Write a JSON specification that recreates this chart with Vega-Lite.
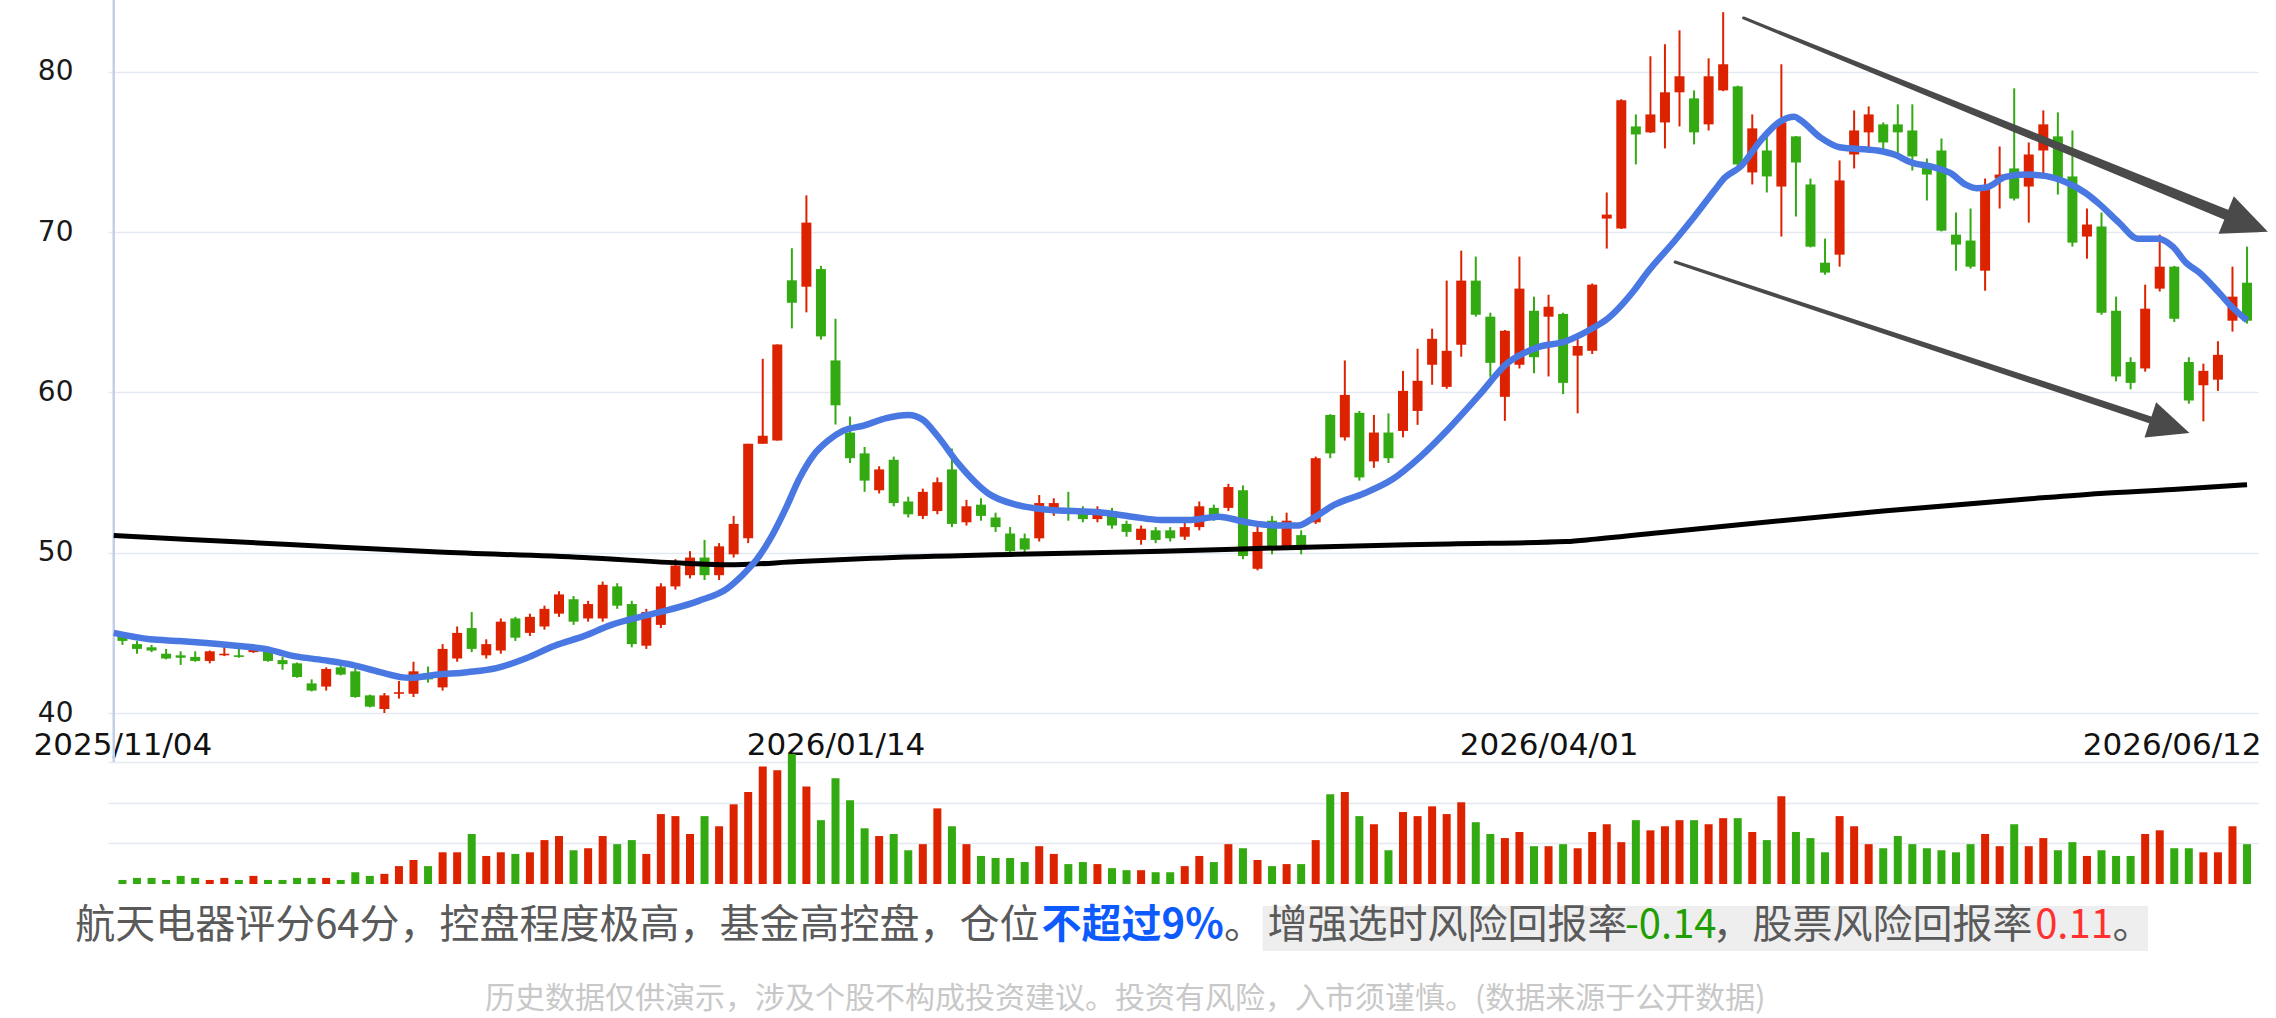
{
"$schema":"https://vega.github.io/schema/vega-lite/v6.json",
"width":2150,"height":1018,
"padding":{"left":108,"top":0,"right":18,"bottom":0},
"autosize":{"type":"none"},
"background":"#ffffff",
"config":{"view":{"stroke":null},"font":"DejaVu Sans"},
"datasets":{
"k":[
{"i":0,"o":44.8,"h":44.85,"l":44.25,"c":44.5,"v":0.10},
{"i":1,"o":44.3,"h":44.5,"l":43.7,"c":44.0,"v":0.15},
{"i":2,"o":44.1,"h":44.25,"l":43.8,"c":43.9,"v":0.15},
{"i":3,"o":43.7,"h":44.0,"l":43.35,"c":43.4,"v":0.10},
{"i":4,"o":43.6,"h":43.85,"l":43.0,"c":43.45,"v":0.20},
{"i":5,"o":43.5,"h":43.85,"l":43.2,"c":43.25,"v":0.15},
{"i":6,"o":43.25,"h":43.9,"l":43.1,"c":43.85,"v":0.10},
{"i":7,"o":43.6,"h":44.35,"l":43.55,"c":43.7,"v":0.15},
{"i":8,"o":43.6,"h":44.0,"l":43.45,"c":43.5,"v":0.10},
{"i":9,"o":43.8,"h":44.2,"l":43.75,"c":44.05,"v":0.20},
{"i":10,"o":44.0,"h":44.05,"l":43.2,"c":43.25,"v":0.10},
{"i":11,"o":43.3,"h":43.5,"l":42.7,"c":43.05,"v":0.10},
{"i":12,"o":43.1,"h":43.15,"l":42.2,"c":42.25,"v":0.15},
{"i":13,"o":41.85,"h":42.1,"l":41.35,"c":41.4,"v":0.15},
{"i":14,"o":41.65,"h":42.85,"l":41.4,"c":42.75,"v":0.15},
{"i":15,"o":42.85,"h":43.0,"l":42.35,"c":42.4,"v":0.10},
{"i":16,"o":42.6,"h":42.8,"l":40.95,"c":41.0,"v":0.29},
{"i":17,"o":41.1,"h":41.15,"l":40.35,"c":40.4,"v":0.20},
{"i":18,"o":40.25,"h":41.25,"l":40.0,"c":41.1,"v":0.25},
{"i":19,"o":41.2,"h":42.0,"l":40.9,"c":41.3,"v":0.44},
{"i":20,"o":41.2,"h":43.2,"l":41.0,"c":42.6,"v":0.59},
{"i":21,"o":42.5,"h":42.9,"l":41.9,"c":42.1,"v":0.44},
{"i":22,"o":41.6,"h":44.3,"l":41.4,"c":44.0,"v":0.78},
{"i":23,"o":43.4,"h":45.4,"l":43.2,"c":45.0,"v":0.78},
{"i":24,"o":45.3,"h":46.3,"l":43.8,"c":44.0,"v":1.23},
{"i":25,"o":43.6,"h":44.6,"l":43.4,"c":44.3,"v":0.69},
{"i":26,"o":43.9,"h":45.9,"l":43.7,"c":45.7,"v":0.78},
{"i":27,"o":45.9,"h":46.0,"l":44.5,"c":44.7,"v":0.74},
{"i":28,"o":45.0,"h":46.2,"l":44.8,"c":46.0,"v":0.78},
{"i":29,"o":45.4,"h":46.7,"l":45.2,"c":46.5,"v":1.08},
{"i":30,"o":46.2,"h":47.6,"l":46.0,"c":47.4,"v":1.18},
{"i":31,"o":47.1,"h":47.3,"l":45.5,"c":45.7,"v":0.83},
{"i":32,"o":45.9,"h":47.0,"l":45.7,"c":46.8,"v":0.88},
{"i":33,"o":45.9,"h":48.2,"l":45.7,"c":48.0,"v":1.18},
{"i":34,"o":47.9,"h":48.1,"l":46.5,"c":46.7,"v":0.98},
{"i":35,"o":46.8,"h":47.0,"l":44.1,"c":44.3,"v":1.08},
{"i":36,"o":44.2,"h":46.5,"l":44.0,"c":46.3,"v":0.74},
{"i":37,"o":45.5,"h":48.1,"l":45.3,"c":47.9,"v":1.72},
{"i":38,"o":47.9,"h":49.6,"l":47.7,"c":49.2,"v":1.67},
{"i":39,"o":48.6,"h":50.1,"l":48.4,"c":49.7,"v":1.23},
{"i":40,"o":49.7,"h":50.8,"l":48.3,"c":48.6,"v":1.67},
{"i":41,"o":48.6,"h":50.6,"l":48.3,"c":50.4,"v":1.42},
{"i":42,"o":49.9,"h":52.3,"l":49.7,"c":51.8,"v":1.96},
{"i":43,"o":50.9,"h":56.8,"l":50.6,"c":56.8,"v":2.26},
{"i":44,"o":56.8,"h":62.1,"l":56.8,"c":57.3,"v":2.89},
{"i":45,"o":57.0,"h":63.0,"l":57.0,"c":63.0,"v":2.80},
{"i":46,"o":67.0,"h":69.0,"l":64.0,"c":65.6,"v":3.20},
{"i":47,"o":66.6,"h":72.3,"l":65.0,"c":70.6,"v":2.40},
{"i":48,"o":67.7,"h":67.9,"l":63.3,"c":63.5,"v":1.57},
{"i":49,"o":62.0,"h":64.6,"l":58.0,"c":59.2,"v":2.60},
{"i":50,"o":57.5,"h":58.5,"l":55.6,"c":55.9,"v":2.06},
{"i":51,"o":56.2,"h":56.6,"l":53.8,"c":54.5,"v":1.37},
{"i":52,"o":53.9,"h":55.4,"l":53.7,"c":55.2,"v":1.18},
{"i":53,"o":55.8,"h":56.0,"l":52.9,"c":53.1,"v":1.23},
{"i":54,"o":53.2,"h":53.5,"l":52.2,"c":52.4,"v":0.83},
{"i":55,"o":52.3,"h":54.0,"l":52.1,"c":53.8,"v":0.98},
{"i":56,"o":52.6,"h":54.7,"l":52.4,"c":54.4,"v":1.86},
{"i":57,"o":55.2,"h":56.5,"l":51.6,"c":51.8,"v":1.42},
{"i":58,"o":51.9,"h":53.3,"l":51.7,"c":52.9,"v":0.98},
{"i":59,"o":53.0,"h":53.4,"l":52.0,"c":52.3,"v":0.69},
{"i":60,"o":52.2,"h":52.5,"l":51.3,"c":51.6,"v":0.64},
{"i":61,"o":51.2,"h":51.6,"l":49.9,"c":50.1,"v":0.64},
{"i":62,"o":50.9,"h":51.2,"l":50.0,"c":50.2,"v":0.54},
{"i":63,"o":50.9,"h":53.6,"l":50.7,"c":53.1,"v":0.93},
{"i":64,"o":52.5,"h":53.4,"l":52.3,"c":53.1,"v":0.74},
{"i":65,"o":52.8,"h":53.8,"l":52.0,"c":52.5,"v":0.49},
{"i":66,"o":52.6,"h":52.9,"l":51.9,"c":52.1,"v":0.54},
{"i":67,"o":52.1,"h":52.9,"l":51.9,"c":52.6,"v":0.49},
{"i":68,"o":52.6,"h":52.8,"l":51.5,"c":51.7,"v":0.39},
{"i":69,"o":51.8,"h":52.0,"l":51.0,"c":51.3,"v":0.34},
{"i":70,"o":50.8,"h":51.7,"l":50.5,"c":51.5,"v":0.34},
{"i":71,"o":51.4,"h":51.6,"l":50.6,"c":50.8,"v":0.29},
{"i":72,"o":51.4,"h":51.6,"l":50.7,"c":50.9,"v":0.29},
{"i":73,"o":51.0,"h":51.9,"l":50.8,"c":51.6,"v":0.44},
{"i":74,"o":51.6,"h":53.2,"l":51.4,"c":52.9,"v":0.69},
{"i":75,"o":52.8,"h":53.0,"l":52.0,"c":52.3,"v":0.54},
{"i":76,"o":52.8,"h":54.3,"l":52.6,"c":54.1,"v":0.98},
{"i":77,"o":53.9,"h":54.2,"l":49.6,"c":49.8,"v":0.88},
{"i":78,"o":49.0,"h":51.8,"l":48.9,"c":51.3,"v":0.59},
{"i":79,"o":52.0,"h":52.3,"l":49.9,"c":50.2,"v":0.44},
{"i":80,"o":50.4,"h":52.5,"l":50.2,"c":52.0,"v":0.49},
{"i":81,"o":51.1,"h":51.4,"l":49.9,"c":50.2,"v":0.49},
{"i":82,"o":51.9,"h":56.0,"l":51.8,"c":55.9,"v":1.08},
{"i":83,"o":58.6,"h":58.65,"l":55.9,"c":56.2,"v":2.21},
{"i":84,"o":57.2,"h":62.0,"l":57.0,"c":59.85,"v":2.26},
{"i":85,"o":58.73,"h":58.85,"l":54.5,"c":54.7,"v":1.67},
{"i":86,"o":55.7,"h":58.6,"l":55.3,"c":57.5,"v":1.47},
{"i":87,"o":57.5,"h":58.7,"l":55.6,"c":55.9,"v":0.83},
{"i":88,"o":57.6,"h":61.35,"l":57.2,"c":60.1,"v":1.77},
{"i":89,"o":58.85,"h":62.73,"l":57.98,"c":60.73,"v":1.67},
{"i":90,"o":61.73,"h":63.98,"l":60.48,"c":63.35,"v":1.91},
{"i":91,"o":60.35,"h":66.98,"l":60.23,"c":62.6,"v":1.72},
{"i":92,"o":62.98,"h":68.85,"l":62.23,"c":66.98,"v":2.01},
{"i":93,"o":66.98,"h":68.48,"l":64.73,"c":64.85,"v":1.52},
{"i":94,"o":64.73,"h":64.98,"l":60.98,"c":61.85,"v":1.23},
{"i":95,"o":59.73,"h":63.9,"l":58.23,"c":63.85,"v":1.13},
{"i":96,"o":61.73,"h":68.48,"l":61.5,"c":66.48,"v":1.28},
{"i":97,"o":65.1,"h":65.98,"l":61.2,"c":62.2,"v":0.93},
{"i":98,"o":64.73,"h":66.1,"l":61.0,"c":65.35,"v":0.93},
{"i":99,"o":64.9,"h":64.98,"l":59.9,"c":60.6,"v":0.98},
{"i":100,"o":62.3,"h":63.5,"l":58.7,"c":62.9,"v":0.88},
{"i":101,"o":62.6,"h":66.8,"l":62.4,"c":66.73,"v":1.28},
{"i":102,"o":70.85,"h":72.48,"l":68.98,"c":71.1,"v":1.47},
{"i":103,"o":70.23,"h":78.3,"l":70.2,"c":78.23,"v":1.03},
{"i":104,"o":76.6,"h":77.35,"l":74.23,"c":76.1,"v":1.57},
{"i":105,"o":76.23,"h":80.98,"l":76.2,"c":77.35,"v":1.32},
{"i":106,"o":76.85,"h":81.73,"l":75.23,"c":78.73,"v":1.42},
{"i":107,"o":78.73,"h":82.6,"l":76.6,"c":79.73,"v":1.57},
{"i":108,"o":78.35,"h":78.85,"l":75.48,"c":76.23,"v":1.57},
{"i":109,"o":76.73,"h":80.85,"l":76.35,"c":79.73,"v":1.47},
{"i":110,"o":78.85,"h":83.73,"l":78.8,"c":80.48,"v":1.62},
{"i":111,"o":79.1,"h":79.15,"l":73.98,"c":74.23,"v":1.62},
{"i":112,"o":73.73,"h":77.35,"l":72.98,"c":76.48,"v":1.28},
{"i":113,"o":75.1,"h":76.23,"l":72.48,"c":73.48,"v":1.08},
{"i":114,"o":72.85,"h":80.48,"l":69.73,"c":76.85,"v":2.16},
{"i":115,"o":75.98,"h":76.0,"l":70.98,"c":74.35,"v":1.28},
{"i":116,"o":72.98,"h":73.35,"l":69.05,"c":69.1,"v":1.13},
{"i":117,"o":68.1,"h":69.6,"l":67.35,"c":67.48,"v":0.78},
{"i":118,"o":68.6,"h":74.48,"l":67.85,"c":73.23,"v":1.67},
{"i":119,"o":74.85,"h":77.6,"l":73.98,"c":76.35,"v":1.42},
{"i":120,"o":76.23,"h":77.85,"l":75.1,"c":77.35,"v":0.98},
{"i":121,"o":76.73,"h":76.85,"l":74.98,"c":75.6,"v":0.88},
{"i":122,"o":76.73,"h":77.98,"l":74.73,"c":76.23,"v":1.18},
{"i":123,"o":76.35,"h":77.98,"l":73.85,"c":74.73,"v":0.98},
{"i":124,"o":74.1,"h":74.6,"l":71.98,"c":73.6,"v":0.88},
{"i":125,"o":75.1,"h":75.85,"l":70.05,"c":70.1,"v":0.83},
{"i":126,"o":69.85,"h":71.23,"l":67.6,"c":69.23,"v":0.78},
{"i":127,"o":69.48,"h":71.48,"l":67.73,"c":67.85,"v":0.98},
{"i":128,"o":67.6,"h":73.35,"l":66.35,"c":72.85,"v":1.23},
{"i":129,"o":73.35,"h":75.35,"l":71.48,"c":73.6,"v":0.93},
{"i":130,"o":73.98,"h":78.98,"l":71.98,"c":72.1,"v":1.47},
{"i":131,"o":72.85,"h":75.6,"l":70.6,"c":74.85,"v":0.93},
{"i":132,"o":75.1,"h":77.6,"l":73.35,"c":76.73,"v":1.13},
{"i":133,"o":75.98,"h":77.48,"l":72.35,"c":73.35,"v":0.83},
{"i":134,"o":73.48,"h":76.35,"l":69.1,"c":69.35,"v":1.03},
{"i":135,"o":69.73,"h":71.48,"l":68.35,"c":70.48,"v":0.69},
{"i":136,"o":70.35,"h":71.23,"l":64.85,"c":64.98,"v":0.83},
{"i":137,"o":65.1,"h":65.98,"l":60.7,"c":61.0,"v":0.69},
{"i":138,"o":61.9,"h":62.2,"l":60.2,"c":60.6,"v":0.69},
{"i":139,"o":61.5,"h":66.73,"l":61.3,"c":65.23,"v":1.23},
{"i":140,"o":66.48,"h":69.85,"l":66.3,"c":67.85,"v":1.32},
{"i":141,"o":67.85,"h":67.9,"l":64.4,"c":64.6,"v":0.88},
{"i":142,"o":61.9,"h":62.2,"l":59.3,"c":59.5,"v":0.88},
{"i":143,"o":60.45,"h":61.8,"l":58.2,"c":61.35,"v":0.78},
{"i":144,"o":60.8,"h":63.2,"l":60.1,"c":62.35,"v":0.78},
{"i":145,"o":64.48,"h":67.85,"l":63.8,"c":65.98,"v":1.42},
{"i":146,"o":66.85,"h":69.1,"l":64.3,"c":64.48,"v":0.98}
],
"ma":[
{"m":"b","i":-0.6,"p":45.0},{"m":"b","i":1.9,"p":44.6},{"m":"b","i":3.9,"p":44.5},{"m":"b","i":7.8,"p":44.2},{"m":"b","i":9.8,"p":44.0},{"m":"b","i":11.8,"p":43.55},{"m":"b","i":13.8,"p":43.3},{"m":"b","i":15.8,"p":43.0},{"m":"b","i":17.7,"p":42.55},{"m":"b","i":19.7,"p":42.2},{"m":"b","i":21.7,"p":42.4},{"m":"b","i":23.7,"p":42.55},{"m":"b","i":25.7,"p":42.8},{"m":"b","i":27.7,"p":43.4},{"m":"b","i":29.7,"p":44.2},{"m":"b","i":31.7,"p":44.8},{"m":"b","i":33.6,"p":45.5},{"m":"b","i":35.6,"p":46.0},{"m":"b","i":37.6,"p":46.45},{"m":"b","i":39.6,"p":47.0},{"m":"b","i":41.6,"p":47.8},{"m":"b","i":42.6,"p":48.6},{"m":"b","i":43.6,"p":49.6},{"m":"b","i":44.6,"p":51.0},{"m":"b","i":45.6,"p":52.8},{"m":"b","i":46.5,"p":54.6},{"m":"b","i":47.5,"p":56.1},{"m":"b","i":48.5,"p":57.0},{"m":"b","i":49.5,"p":57.6},{"m":"b","i":51.0,"p":57.95},{"m":"b","i":52.5,"p":58.4},{"m":"b","i":54.0,"p":58.6},{"m":"b","i":55.0,"p":58.3},{"m":"b","i":56.0,"p":57.3},{"m":"b","i":57.5,"p":55.5},{"m":"b","i":59.5,"p":53.7},{"m":"b","i":61.4,"p":53.0},{"m":"b","i":63.4,"p":52.7},{"m":"b","i":65.4,"p":52.6},{"m":"b","i":67.4,"p":52.5},{"m":"b","i":69.4,"p":52.25},{"m":"b","i":71.4,"p":52.05},{"m":"b","i":73.4,"p":52.05},{"m":"b","i":75.3,"p":52.25},{"m":"b","i":77.3,"p":51.9},{"m":"b","i":79.3,"p":51.7},{"m":"b","i":80.8,"p":51.7},{"m":"b","i":81.8,"p":52.15},{"m":"b","i":83.3,"p":53.0},{"m":"b","i":85.3,"p":53.7},{"m":"b","i":87.3,"p":54.6},{"m":"b","i":89.2,"p":56.0},{"m":"b","i":91.2,"p":57.8},{"m":"b","i":93.2,"p":59.8},{"m":"b","i":95.2,"p":61.85},{"m":"b","i":97.2,"p":62.8},{"m":"b","i":99.2,"p":63.2},{"m":"b","i":101.2,"p":64.1},{"m":"b","i":101.9,"p":64.5},{"m":"b","i":103.9,"p":66.4},{"m":"b","i":104.8,"p":67.5},{"m":"b","i":106.7,"p":69.5},{"m":"b","i":108.0,"p":70.95},{"m":"b","i":109.4,"p":72.6},{"m":"b","i":110.1,"p":73.4},{"m":"b","i":111.2,"p":74.1},{"m":"b","i":112.6,"p":75.75},{"m":"b","i":113.9,"p":76.9},{"m":"b","i":114.9,"p":77.2},{"m":"b","i":115.3,"p":77.0},{"m":"b","i":116.7,"p":75.9},{"m":"b","i":118.0,"p":75.3},{"m":"b","i":120.6,"p":75.1},{"m":"b","i":121.9,"p":74.8},{"m":"b","i":122.8,"p":74.4},{"m":"b","i":124.5,"p":74.05},{"m":"b","i":125.6,"p":73.7},{"m":"b","i":126.7,"p":72.95},{"m":"b","i":127.4,"p":72.75},{"m":"b","i":128.1,"p":72.8},{"m":"b","i":129.4,"p":73.45},{"m":"b","i":130.8,"p":73.6},{"m":"b","i":132.2,"p":73.5},{"m":"b","i":133.6,"p":73.1},{"m":"b","i":134.9,"p":72.45},{"m":"b","i":135.8,"p":71.8},{"m":"b","i":137.2,"p":70.6},{"m":"b","i":138.5,"p":69.6},{"m":"b","i":139.9,"p":69.6},{"m":"b","i":140.9,"p":69.1},{"m":"b","i":141.8,"p":68.1},{"m":"b","i":142.7,"p":67.5},{"m":"b","i":144.1,"p":66.2},{"m":"b","i":145.0,"p":65.3},{"m":"b","i":146.0,"p":64.5},
{"m":"k","i":-0.6,"p":51.07},{"m":"k","i":11.8,"p":50.5},{"m":"k","i":21.7,"p":50.05},{"m":"k","i":31.7,"p":49.7},{"m":"k","i":38.6,"p":49.35},{"m":"k","i":41.6,"p":49.25},{"m":"k","i":46.5,"p":49.45},{"m":"k","i":51.5,"p":49.65},{"m":"k","i":61.4,"p":49.9},{"m":"k","i":71.4,"p":50.1},{"m":"k","i":81.3,"p":50.35},{"m":"k","i":91.2,"p":50.55},{"m":"k","i":99.2,"p":50.7},{"m":"k","i":101.2,"p":50.85},{"m":"k","i":106.1,"p":51.3},{"m":"k","i":111.1,"p":51.75},{"m":"k","i":121.0,"p":52.6},{"m":"k","i":130.9,"p":53.35},{"m":"k","i":135.9,"p":53.7},{"m":"k","i":140.9,"p":53.95},{"m":"k","i":146.0,"p":54.25}
],
"axisline":[{"i":-0.6,"lo":36.94,"hi":84.49}],
"arrows":[
{"a":"up","i":111.4,"p":83.37,"t":0},{"a":"up","i":144.6,"p":71.08,"t":1},
{"a":"dn","i":106.7,"p":68.14,"t":0},{"a":"dn","i":139.4,"p":58.28,"t":0.55}
],
"heads":[{"a":"up","i":146.0,"p":70.55},{"a":"dn","i":140.7,"p":57.88}],
"texts":[
{"s":"航天电器评分64分，控盘程度极高，基金高控盘，仓位","i":-3.25,"row":1,"k":"gray"},
{"s":"。","i":75.7,"row":1,"k":"gray"},
{"s":"增强选时风险回报率","i":78.69,"row":1,"k":"gray"},
{"s":"-0.14","i":103.25,"row":1,"k":"green"},
{"s":"，股票风险回报率","i":109.27,"row":1,"k":"gray"},
{"s":"0.11","i":131.44,"row":1,"k":"red"},
{"s":"。","i":136.75,"row":1,"k":"gray"}
],
"blue":[{"s":"不超过9%","i":63.16,"row":1}],
"note":[{"s":"历史数据仅供演示，涉及个股不构成投资建议。投资有风险，入市须谨慎。(数据来源于公开数据)","i":68.91,"row":2}],
"box":[{"i":78.35,"i2":139.2,"row":0.726,"row2":1.342}]
},
"encoding":{
"x":{"field":"i","type":"quantitative","scale":{"domain":[-0.65,146.41],"nice":false,"zero":false},
"axis":{"title":null,"values":[0,49,98,146],"labelExpr":"datum.value == 0 ? '2025/11/04' : datum.value == 49 ? '2026/01/14' : datum.value == 98 ? '2026/04/01' : datum.value == 146 ? '2026/06/12' : ''","domain":false,"ticks":false,"tickSize":0,"grid":false,"labelFont":"DejaVu Sans","labelFontSize":31,"labelColor":"#111111","labelPadding":-273,"labelBaseline":"middle","labelFlush":false,"labelAlign":{"condition":{"test":"datum.value == 146","value":"right"},"value":"center"},"labelOffset":{"condition":{"test":"datum.value == 146","value":14},"value":0},"labelOverlap":false,"labelBound":false}}
},
"layer":[
{
"data":{"name":"k"},
"layer":[
{"data":{"name":"axisline"},"mark":{"type":"rule","color":"#c3cfe8","strokeWidth":2.5},
 "encoding":{"y":{"field":"lo","type":"quantitative","scale":{"domain":[20.97,84.49],"nice":false,"zero":false},
  "axis":{"title":null,"orient":"left","values":[40,50,60,70,80],"grid":true,"gridColor":"#e4e9f1","gridWidth":1.5,"domain":false,"ticks":false,"tickSize":0,"labelPadding":35,"labelFontSize":28,"labelColor":"#1a1a1a","labelFont":"DejaVu Sans"}},"y2":{"field":"hi"}}},
{"mark":{"type":"rule","strokeWidth":2},
 "encoding":{"y":{"field":"l","type":"quantitative","scale":{"domain":[20.97,84.49],"nice":false,"zero":false},
  "axis":{"title":null,"orient":"left","values":[40,50,60,70,80],"grid":true,"gridColor":"#e4e9f1","gridWidth":1.5,"domain":false,"ticks":false,"tickSize":0,"labelPadding":35,"labelFontSize":28,"labelColor":"#1a1a1a","labelFont":"DejaVu Sans"}},
  "y2":{"field":"h"},
  "color":{"condition":{"test":"datum.c >= datum.o","value":"#dd2200"},"value":"#33aa11"}}},
{"mark":{"type":"bar","size":10},
 "encoding":{"y":{"field":"o","type":"quantitative","scale":{"domain":[20.97,84.49],"nice":false,"zero":false},
  "axis":{"title":null,"orient":"left","values":[40,50,60,70,80],"grid":true,"gridColor":"#e4e9f1","gridWidth":1.5,"domain":false,"ticks":false,"tickSize":0,"labelPadding":35,"labelFontSize":28,"labelColor":"#1a1a1a","labelFont":"DejaVu Sans"}},
  "y2":{"field":"c"},
  "color":{"condition":{"test":"datum.c >= datum.o","value":"#dd2200"},"value":"#33aa11"}}},
{"data":{"name":"ma"},"transform":[{"filter":"datum.m == 'k'"}],
 "mark":{"type":"line","color":"#000000","strokeWidth":5,"interpolate":"monotone"},
 "encoding":{"y":{"field":"p","type":"quantitative","scale":{"domain":[20.97,84.49],"nice":false,"zero":false},
  "axis":{"title":null,"orient":"left","values":[40,50,60,70,80],"grid":true,"gridColor":"#e4e9f1","gridWidth":1.5,"domain":false,"ticks":false,"tickSize":0,"labelPadding":35,"labelFontSize":28,"labelColor":"#1a1a1a","labelFont":"DejaVu Sans"}}}},
{"data":{"name":"ma"},"transform":[{"filter":"datum.m == 'b'"}],
 "mark":{"type":"line","color":"#4a78e2","strokeWidth":6.5,"interpolate":"monotone"},
 "encoding":{"y":{"field":"p","type":"quantitative","scale":{"domain":[20.97,84.49],"nice":false,"zero":false},
  "axis":{"title":null,"orient":"left","values":[40,50,60,70,80],"grid":true,"gridColor":"#e4e9f1","gridWidth":1.5,"domain":false,"ticks":false,"tickSize":0,"labelPadding":35,"labelFontSize":28,"labelColor":"#1a1a1a","labelFont":"DejaVu Sans"}}}},
{"data":{"name":"arrows"},
 "mark":{"type":"trail","color":"#4a4a4a","opacity":1},
 "encoding":{"y":{"field":"p","type":"quantitative","scale":{"domain":[20.97,84.49],"nice":false,"zero":false},
  "axis":{"title":null,"orient":"left","values":[40,50,60,70,80],"grid":true,"gridColor":"#e4e9f1","gridWidth":1.5,"domain":false,"ticks":false,"tickSize":0,"labelPadding":35,"labelFontSize":28,"labelColor":"#1a1a1a","labelFont":"DejaVu Sans"}},
  "detail":{"field":"a"},
  "size":{"field":"t","type":"quantitative","scale":{"domain":[0,1],"range":[3,10.5]},"legend":null}}},
{"data":{"name":"heads"},"transform":[{"filter":"datum.a == 'up'"}],
 "mark":{"type":"point","shape":"M1,0L-1,-0.9L-1,0.9Z","size":2025,"angle":22.1,"filled":true,"color":"#4a4a4a","opacity":1,"strokeWidth":0},
 "encoding":{"y":{"field":"p","type":"quantitative","scale":{"domain":[20.97,84.49],"nice":false,"zero":false},
  "axis":{"title":null,"orient":"left","values":[40,50,60,70,80],"grid":true,"gridColor":"#e4e9f1","gridWidth":1.5,"domain":false,"ticks":false,"tickSize":0,"labelPadding":35,"labelFontSize":28,"labelColor":"#1a1a1a","labelFont":"DejaVu Sans"}}}},
{"data":{"name":"heads"},"transform":[{"filter":"datum.a == 'dn'"}],
 "mark":{"type":"point","shape":"M1,0L-1,-0.9L-1,0.9Z","size":1700,"angle":18.3,"filled":true,"color":"#4a4a4a","opacity":1,"strokeWidth":0},
 "encoding":{"y":{"field":"p","type":"quantitative","scale":{"domain":[20.97,84.49],"nice":false,"zero":false},
  "axis":{"title":null,"orient":"left","values":[40,50,60,70,80],"grid":true,"gridColor":"#e4e9f1","gridWidth":1.5,"domain":false,"ticks":false,"tickSize":0,"labelPadding":35,"labelFontSize":28,"labelColor":"#1a1a1a","labelFont":"DejaVu Sans"}}}}
]
},
{
"data":{"name":"k"},
"layer":[
{"mark":{"type":"bar","size":8},
 "encoding":{"y":{"field":"v","type":"quantitative","scale":{"domain":[-3.295,21.74],"nice":false,"zero":false},
  "axis":{"title":null,"orient":"right","values":[1,2,3],"grid":true,"gridColor":"#e4e9f1","gridWidth":1.5,"domain":false,"ticks":false,"labels":false}},
  "y2":{"datum":0},
  "color":{"condition":{"test":"datum.c >= datum.o","value":"#dd2200"},"value":"#33aa11"}}},
{"data":{"values":[{}]},"mark":{"type":"rule","color":"#ccd6eb","strokeWidth":2},
 "encoding":{"x":{"datum":-0.65},"x2":{"datum":146.41},"y":{"datum":0,"type":"quantitative","scale":{"domain":[-3.295,21.74],"nice":false,"zero":false},
  "axis":{"title":null,"orient":"right","values":[1,2,3],"grid":true,"gridColor":"#e4e9f1","gridWidth":1.5,"domain":false,"ticks":false,"labels":false}}}}
]
},
{
"layer":[
{"data":{"name":"box"},"mark":{"type":"rect","color":"#eeeeee"},
 "encoding":{"x2":{"field":"i2"},"y":{"field":"row","type":"quantitative","scale":{"domain":[-11.685,2.26],"nice":false,"zero":false,"reverse":true},"axis":null},"y2":{"field":"row2"}}},
{"data":{"name":"texts"},"mark":{"type":"text","align":"left","baseline":"middle","font":"Noto Sans CJK SC","fontSize":40},
 "encoding":{"y":{"field":"row","type":"quantitative","scale":{"domain":[-11.685,2.26],"nice":false,"zero":false,"reverse":true},"axis":null},
  "text":{"field":"s"},
  "color":{"field":"k","type":"nominal","scale":{"domain":["gray","green","red"],"range":["#5a5a5a","#1f9e00","#ff3030"]},"legend":null}}},
{"data":{"name":"blue"},"mark":{"type":"text","align":"left","baseline":"middle","font":"Noto Sans CJK SC","fontSize":40,"fontWeight":"bold","color":"#0d5bff"},
 "encoding":{"y":{"field":"row","type":"quantitative","scale":{"domain":[-11.685,2.26],"nice":false,"zero":false,"reverse":true},"axis":null},"text":{"field":"s"}}},
{"data":{"name":"note"},"mark":{"type":"text","align":"center","baseline":"middle","font":"Noto Sans CJK SC","fontSize":30,"color":"#c8c8c8"},
 "encoding":{"y":{"field":"row","type":"quantitative","scale":{"domain":[-11.685,2.26],"nice":false,"zero":false,"reverse":true},"axis":null},"text":{"field":"s"}}}
]
}
],
"resolve":{"scale":{"y":"independent"}}
}
